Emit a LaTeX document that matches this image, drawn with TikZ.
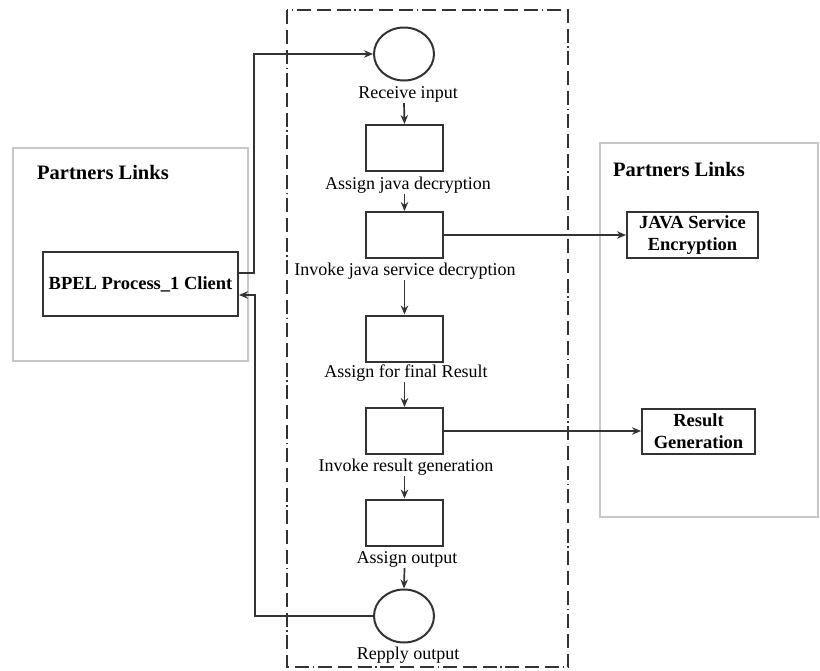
\documentclass[tikz,border=0pt]{standalone}
\usepackage{fontspec}
\setmainfont{Liberation Serif}
\usetikzlibrary{shapes.geometric,arrows.meta}
\begin{document}
\begin{tikzpicture}[x=1pt,y=-1pt,
  act/.style={draw=black!80, line width=2pt, minimum width=77pt, minimum height=46pt, inner sep=0pt},
  evt/.style={ellipse, draw=black!80, line width=2pt, minimum width=60pt, minimum height=53pt, inner sep=0pt},
  lbl/.style={font=\fontsize{18}{21}\selectfont, inner sep=1pt},
  part/.style={draw=black!80, line width=2pt, font=\bfseries\fontsize{18.5}{21.5}\selectfont, align=center, inner sep=0pt},
  grp/.style={draw=black!22, line width=2.5pt},
  grptitle/.style={font=\bfseries\fontsize{20.5}{24}\selectfont, anchor=base west, inner sep=0pt},
  lane/.style={draw=black!80, line width=2pt, dash pattern=on 14pt off 6pt on 14pt off 6pt on 14pt off 3.5pt on 1.5pt off 3.5pt},
  arr/.style={draw=black!80, line width=1.7pt, -{Stealth[length=9pt,width=7.5pt]}},
]
\useasboundingbox (0,0) rectangle (820,670);
\fill[white] (0,0) rectangle (820,670);

% partner link groups
\draw[grp] (13,148) rectangle (248,361);
\node[grptitle] (t1) at (37,179) {Partners Links};
\draw[grp] (600,143) rectangle (818,517);
\node[grptitle] (t2) at (613,176) {Partners Links};

% process lane
\draw[lane] (287,10) rectangle (568,667);

% process activities
\node[evt] (c1) at (404,54) {};
\node[lbl] (l0) at (408,94) {Receive input};
\node[act] (b1) at (404.5,148) {};
\node[lbl] (l1) at (408,185) {Assign java decryption};
\node[act] (b2) at (404.5,235) {};
\node[lbl] (l2) at (405,271) {Invoke java service decryption};
\node[act] (b3) at (404.5,338.5) {};
\node[lbl] (l3) at (406,373) {Assign for final Result};
\node[act] (b4) at (404.5,431) {};
\node[lbl] (l4) at (406,467) {Invoke result generation};
\node[act] (b5) at (404.5,522.5) {};
\node[lbl] (l5) at (407,559) {Assign output};
\node[evt] (c2) at (404,616) {};
\node[lbl] (l6) at (408,655) {Repply output};

% partners
\node[part, minimum width=195pt, minimum height=64pt] (client) at (140.5,284) {BPEL Process\_1 Client};
\node[part, minimum width=131pt, minimum height=46pt] (java) at (692.5,235) {JAVA Service\\Encryption};
\node[part, minimum width=113pt, minimum height=45pt] (res) at (698.5,431) {Result\\Generation};

% flow arrows
\draw[arr] (l0.south -| c1) -- (b1.north);
\draw[arr] (l1.south -| b1) -- (b2.north);
\draw[arr] (l2.south -| b2) -- (b3.north);
\draw[arr] (l3.south -| b3) -- (b4.north);
\draw[arr] (l4.south -| b4) -- (b5.north);
\draw[arr] (l5.south -| b5) -- (c2.north);

% invocations
\draw[arr] (b2.east) -- (java.west);
\draw[arr] (b4.east) -- (res.west);

% client links
\draw[arr] ([yshift=11pt]client.east) -- ++(15,0) |- (c1.west);
\draw[arr] (c2.west) -| ([xshift=16pt,yshift=-11pt]client.east) -- ([yshift=-11pt]client.east);
\end{tikzpicture}
\end{document}
